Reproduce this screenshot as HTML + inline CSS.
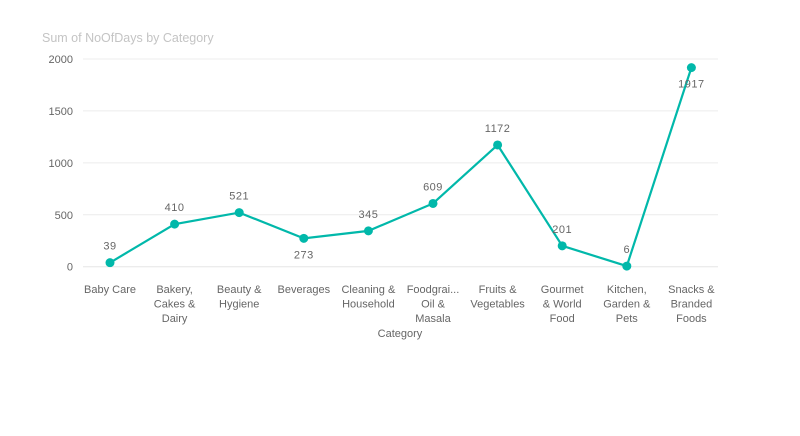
<!DOCTYPE html>
<html><head><meta charset="utf-8"><style>
body{margin:0;background:#fff;width:800px;height:431px;overflow:hidden;font-family:"Liberation Sans",sans-serif}
</style></head><body>
<svg id="chart" width="800" height="431" xmlns="http://www.w3.org/2000/svg" font-family="Liberation Sans, sans-serif">
<text x="42" y="42" font-size="12.5" fill="#c4c4c4">Sum of NoOfDays by Category</text>
<text x="400" y="337" font-size="11" fill="#666" text-anchor="middle">Category</text>
<g id="grid"></g><g id="marks"></g>
</svg>
<script>
const categories=[["Baby Care"],["Bakery,","Cakes &","Dairy"],["Beauty &","Hygiene"],["Beverages"],["Cleaning &","Household"],["Foodgrai...","Oil &","Masala"],["Fruits &","Vegetables"],["Gourmet","& World","Food"],["Kitchen,","Garden &","Pets"],["Snacks &","Branded","Foods"]];
const values=[39,410,521,273,345,609,1172,201,6,1917];
const labelBelow=[false,false,false,true,false,false,false,false,false,true];
const yTicks=[0,500,1000,1500,2000];
const NS="http://www.w3.org/2000/svg";
const y=v=>266.7-v*(207.7/2000);
const x=i=>110+i*64.6;
const grid=document.getElementById('grid'),marks=document.getElementById('marks');
function mk(tag,attrs,parent,text){const e=document.createElementNS(NS,tag);for(const k in attrs)e.setAttribute(k,attrs[k]);if(text!==undefined)e.textContent=text;parent.appendChild(e);return e;}
yTicks.forEach(t=>{
 const l=mk('line',{x1:83,x2:718,y1:y(t),y2:y(t),stroke:t===0?'#e6e6e6':'#ececec','stroke-width':1},grid);
 
 
 const tx=mk('text',{x:73,y:y(t)+4,'font-size':11,fill:'#666','text-anchor':'end'},grid,String(t));
 
 
});
categories.forEach((c,i)=>{
 const t=mk('text',{x:x(i),'font-size':11,fill:'#666','text-anchor':'middle'},grid);
 
 
 c.forEach((line,j)=>mk('tspan',{x:x(i),y:293+j*14.5},t,line));
});
const pts=values.map((v,i)=>x(i)+','+y(v)).join(' ');
const pl=mk('polyline',{points:pts,fill:'none',stroke:'#01b8aa','stroke-width':2.2},marks);


values.forEach((v,i)=>{
 const c=mk('circle',{cx:x(i),cy:y(v),r:4.5,fill:'#01b8aa'},marks);
 
 
 const ly=labelBelow[i]?y(v)+20:y(v)-13;
 const t=mk('text',{x:x(i),y:ly,'font-size':11,fill:'#666','text-anchor':'middle','letter-spacing':'0.5'},marks,String(v));
 
 
});
</script>
</body></html>
